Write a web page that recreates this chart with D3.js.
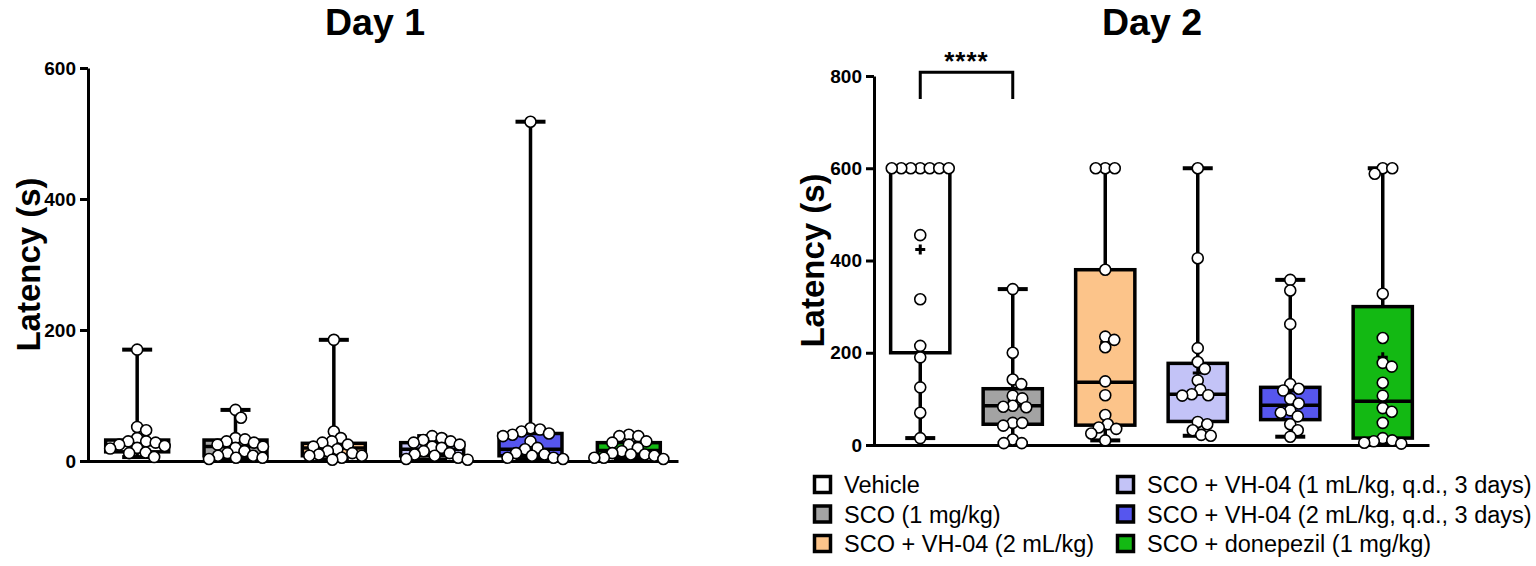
<!DOCTYPE html>
<html>
<head>
<meta charset="utf-8">
<script src="https://cdn.jsdelivr.net/npm/d3@7"></script>
<style>
  body { margin: 0; background: #fff; }
  svg { display: block; font-family: Arial, "Liberation Sans", sans-serif; }
</style>
</head>
<body>
<div id="chart"></div>
<script>
// ---------------- DATA ----------------

const groups = [
  "Vehicle",
  "SCO (1 mg/kg)",
  "SCO + VH-04 (2 mL/kg)",
  "SCO + VH-04 (1 mL/kg, q.d., 3 days)",
  "SCO + VH-04 (2 mL/kg, q.d., 3 days)",
  "SCO + donepezil (1 mg/kg)"
];
const colors = ["#ffffff", "#a3a3a3", "#fcc48a", "#c3c3f7", "#5656ee", "#13b913"];

// day 1 latencies (s), one list per group
const day1Points = [
  [170, 52, 47, 35, 30, 30, 28, 25, 23, 20, 19, 13, 12, 6],
  [78, 66, 35, 33, 30, 28, 25, 22, 20, 15, 12, 8, 8, 5, 5, 3],
  [185, 45, 35, 30, 28, 25, 22, 18, 15, 12, 10, 8, 8, 5, 2],
  [38, 35, 32, 30, 28, 25, 22, 20, 15, 12, 10, 8, 5, 3, 2],
  [518, 50, 48, 45, 42, 40, 38, 30, 20, 18, 12, 10, 8, 5, 5, 3],
  [40, 38, 38, 30, 28, 25, 20, 15, 12, 10, 10, 8, 5, 5, 3]
];
// [min, q1, median, q3, max]
const day1Box = [
  [6, 14, 25, 32, 170],
  [3, 8, 22, 32, 78],
  [2, 8, 20, 27, 185],
  [2, 8, 18, 28, 38],
  [3, 8, 18, 42, 518],
  [3, 8, 16, 28, 40]
];
const day1Mean = [33, 24, 30, 18, 52, 20];

// day 2 latencies (s)
const day2Points = [
  [600, 600, 600, 600, 600, 600, 600, 455, 316, 215, 190, 125, 70, 15],
  [338, 200, 142, 132, 107, 101, 85, 83, 82, 48, 48, 42, 12, 4, 4],
  [600, 600, 600, 380, 235, 228, 212, 138, 108, 65, 45, 38, 35, 25, 10],
  [600, 405, 210, 180, 165, 140, 120, 110, 108, 107, 50, 45, 32, 22, 20],
  [358, 335, 262, 132, 122, 118, 100, 90, 75, 70, 62, 45, 32, 18],
  [600, 600, 588, 328, 232, 178, 170, 135, 107, 80, 72, 48, 15, 10, 8, 5, 3]
];
const day2Box = [
  [15, 200, 600, 600, 600],
  [4, 45, 85, 122, 338],
  [10, 43, 136, 380, 600],
  [20, 51, 110, 177, 600],
  [18, 55, 86, 125, 358],
  [3, 15, 95, 300, 600]
];
const day2Mean = [424, 96, 222, 156, 117, 190];

const day1Ticks = [0, 200, 400, 600];
const day2Ticks = [0, 200, 400, 600, 800];

// significance: Vehicle vs SCO on day 2
const sigPair = [0, 1];
const sigLabel = "****";
const sigTop = 808, sigLeg = 750;

// ---------------- SVG ----------------

const W = 1536, H = 566;
const svg = d3.select("#chart").append("svg")
  .attr("width", W).attr("height", H);

// simple beeswarm: nudge each point sideways until it stops overlapping
function swarm(vals, y, minDist) {
  const pts = vals.map(v => ({ v, py: y(v), dx: 0 })).sort((a, b) => a.py - b.py);
  const placed = [];
  pts.forEach(p => {
    for (let k = 0; k < 200; k += 0.5) {
      const opts = k === 0 ? [0] : [k, -k];
      const hit = opts.find(dx => placed.every(q =>
        (q.dx - dx) ** 2 + (q.py - p.py) ** 2 >= minDist * minDist));
      if (hit !== undefined) { p.dx = hit; break; }
    }
    placed.push(p);
  });
  return pts;
}

// ---------------- PANEL ----------------

function drawPanel(cfg) {
  const g = svg.append("g");

  const x = d3.scalePoint().domain(groups).range(cfg.xRange).padding(0.5);
  const y = d3.scaleLinear().domain([0, cfg.yMax]).range(cfg.yRange);
  const bw = x.step() * 0.64;
  const capW = 30;

  // title
  g.append("text")
    .attr("x", cfg.titleX).attr("y", 35)
    .attr("text-anchor", "middle")
    .attr("font-size", 37.5).attr("font-weight", "bold")
    .text(cfg.title);

  // y label
  g.append("text")
    .attr("transform", `translate(${cfg.labelX},${(cfg.yRange[0] + cfg.yRange[1]) / 2}) rotate(-90)`)
    .attr("text-anchor", "middle")
    .attr("font-size", 33).attr("font-weight", "bold")
    .text("Latency (s)");

  // axes
  const yAxis = g.append("g")
    .attr("transform", `translate(${cfg.xRange[0]},0)`)
    .call(d3.axisLeft(y).tickValues(cfg.ticks).tickSize(8).tickPadding(4).tickSizeOuter(0));
  yAxis.select(".domain").attr("stroke-width", 3);
  yAxis.selectAll(".tick line").attr("stroke-width", 3);
  yAxis.selectAll(".tick text")
    .attr("font-size", 19).attr("font-weight", "bold")
    .attr("font-family", "Arial, 'Liberation Sans', sans-serif")
    .attr("fill", "#000");

  const xLin = d3.scaleLinear().range([cfg.xRange[0] - 1.5, cfg.xRange[1]]);
  const xAxis = g.append("g")
    .attr("transform", `translate(0,${y(0)})`)
    .call(d3.axisBottom(xLin).tickValues([]).tickSizeOuter(0));
  xAxis.select(".domain").attr("stroke-width", 3);

  // boxes
  const boxes = g.append("g").selectAll("g")
    .data(groups.map((name, i) => ({ name, i, b: cfg.box[i], mean: cfg.mean[i], pts: cfg.points[i] })))
    .join("g")
    .attr("transform", d => `translate(${x(d.name)},0)`);

  boxes.append("line")
    .attr("y1", d => y(d.b[4])).attr("y2", d => y(d.b[3]))
    .attr("stroke", "#000").attr("stroke-width", 3.5);
  boxes.append("line")
    .attr("y1", d => y(d.b[1])).attr("y2", d => y(d.b[0]))
    .attr("stroke", "#000").attr("stroke-width", 3.5);
  boxes.selectAll(".cap")
    .data(d => [d.b[0], d.b[4]])
    .join("line")
    .attr("class", "cap")
    .attr("x1", -capW / 2).attr("x2", capW / 2)
    .attr("y1", v => y(v)).attr("y2", v => y(v))
    .attr("stroke", "#000").attr("stroke-width", 4);

  boxes.append("rect")
    .attr("x", -bw / 2).attr("width", bw)
    .attr("y", d => y(d.b[3]))
    .attr("height", d => y(d.b[1]) - y(d.b[3]))
    .attr("fill", d => colors[d.i])
    .attr("stroke", "#000").attr("stroke-width", 3.5);
  boxes.append("line")
    .attr("x1", -bw / 2).attr("x2", bw / 2)
    .attr("y1", d => y(d.b[2])).attr("y2", d => y(d.b[2]))
    .attr("stroke", "#000").attr("stroke-width", 3.5);

  // mean "+"
  boxes.append("path")
    .attr("d", d => `M-5,${y(d.mean)}h10M0,${y(d.mean) - 5}v10`)
    .attr("stroke", "#000").attr("stroke-width", 3);

  // points
  boxes.selectAll("circle")
    .data(d => swarm(d.pts, y, 9.5))
    .join("circle")
    .attr("cx", p => p.dx)
    .attr("cy", p => p.py)
    .attr("r", 5.5)
    .attr("fill", "#fff")
    .attr("stroke", "#000").attr("stroke-width", 1.6);

  return { x, y };
}

// ---------------- RUN ----------------

drawPanel({
  title: "Day 1", titleX: 375, labelX: 40,
  xRange: [88, 678], yRange: [461, 68], yMax: 600, ticks: day1Ticks,
  points: day1Points, box: day1Box, mean: day1Mean
});

const p2 = drawPanel({
  title: "Day 2", titleX: 1152, labelX: 824,
  xRange: [874, 1429], yRange: [445, 76], yMax: 800, ticks: day2Ticks,
  points: day2Points, box: day2Box, mean: day2Mean
});

// significance bracket
const bx0 = p2.x(groups[sigPair[0]]), bx1 = p2.x(groups[sigPair[1]]);
svg.append("path")
  .attr("d", `M${bx0},${p2.y(sigLeg)}V${p2.y(sigTop)}H${bx1}V${p2.y(sigLeg)}`)
  .attr("fill", "none").attr("stroke", "#000").attr("stroke-width", 3);
svg.append("text")
  .attr("x", (bx0 + bx1) / 2).attr("y", p2.y(sigTop) - 2)
  .attr("text-anchor", "middle")
  .attr("font-size", 26).attr("font-weight", "bold")
  .attr("letter-spacing", 1)
  .text(sigLabel);

// ---------------- LEGEND ----------------

const legend = svg.append("g").selectAll("g")
  .data(groups)
  .join("g")
  .attr("transform", (d, i) => `translate(${i < 3 ? 813 : 1116},${485 + (i % 3) * 29.5})`);

legend.append("rect")
  .attr("x", 1.5).attr("y", -8.5)
  .attr("width", 16).attr("height", 16)
  .attr("fill", (d, i) => colors[i])
  .attr("stroke", "#000").attr("stroke-width", 3.5);

legend.append("text")
  .attr("x", 31).attr("y", 0)
  .attr("dy", "0.36em")
  .attr("font-size", 23.5)
  .text(d => d);
</script>
</body>
</html>
